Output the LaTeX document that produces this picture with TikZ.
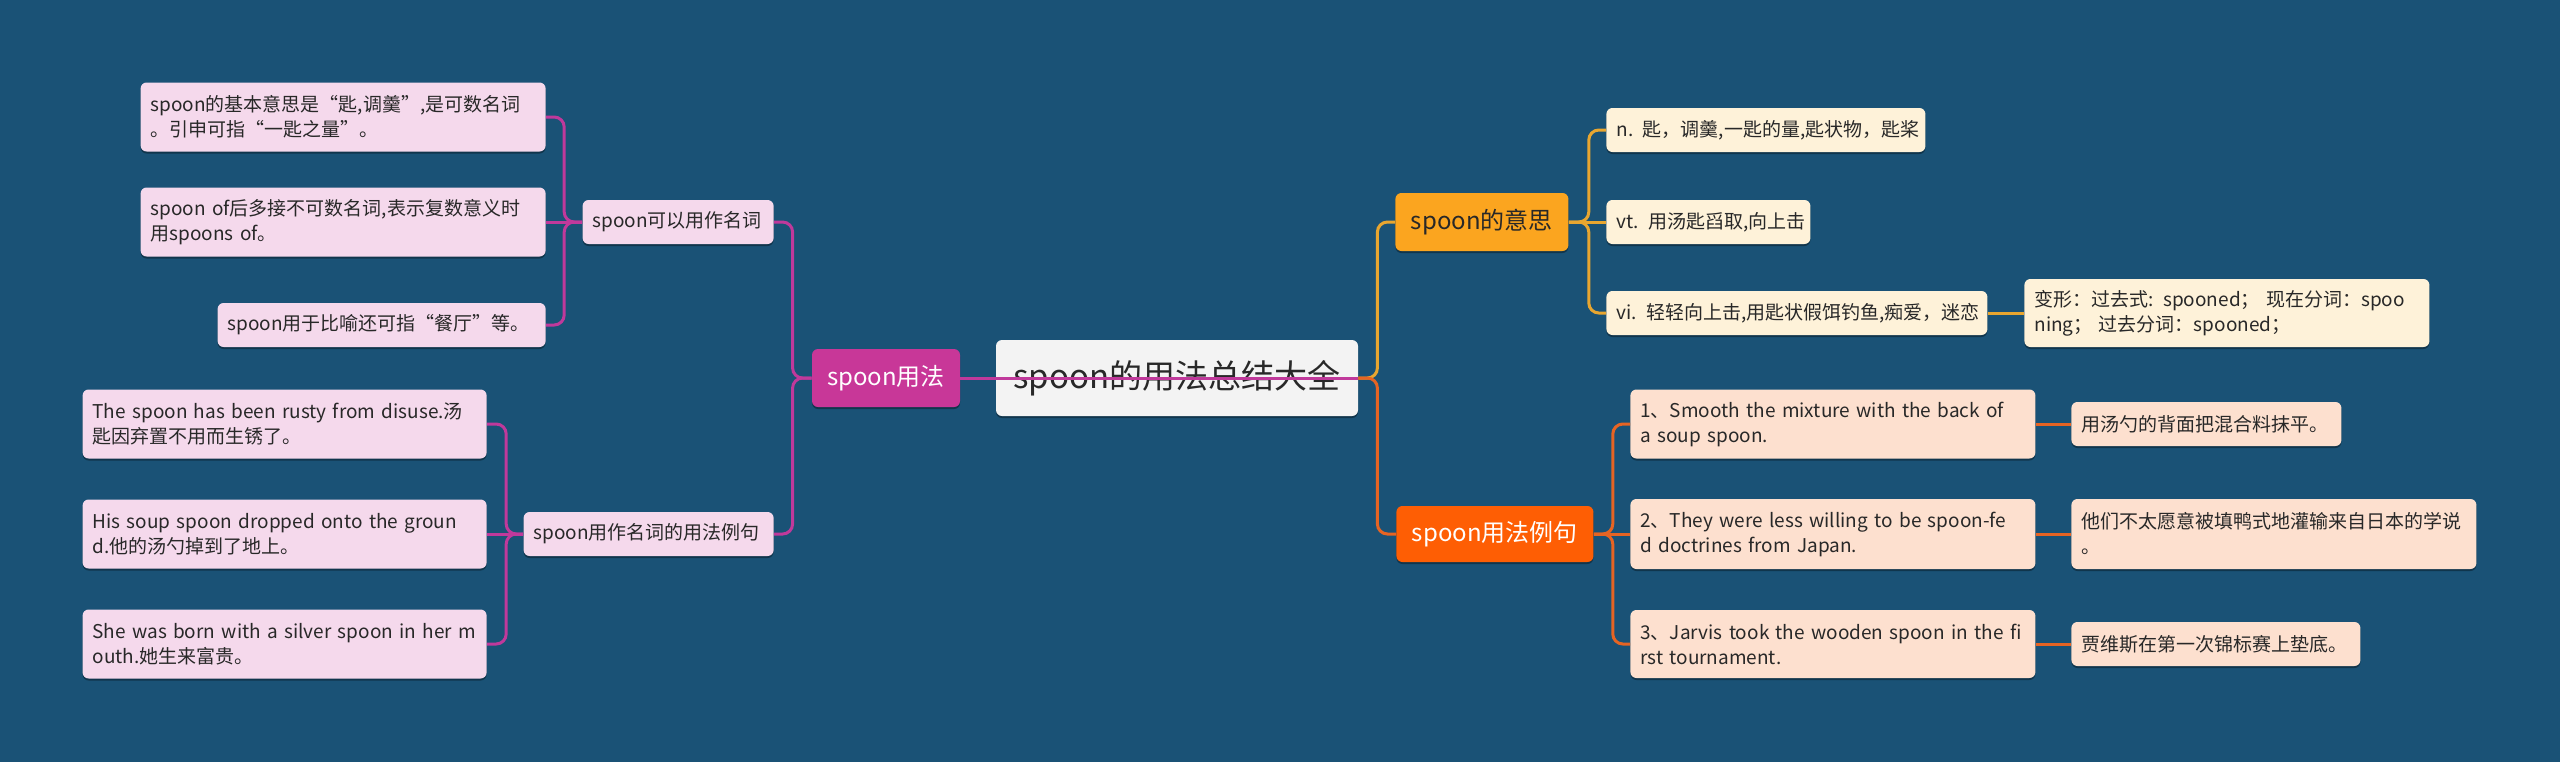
\documentclass[tikz,border=0pt]{standalone}
\usepackage{fontspec}
\setmainfont{Noto Sans CJK SC}
\usetikzlibrary{shadows}
\definecolor{bg}{RGB}{26,82,118}
\definecolor{txt}{RGB}{40,40,40}
\definecolor{rootf}{RGB}{243,243,243}
\definecolor{magf}{RGB}{200,55,152}
\definecolor{magl}{RGB}{192,57,155}
\definecolor{pinkf}{RGB}{245,217,236}
\definecolor{yelf}{RGB}{251,165,31}
\definecolor{yell}{RGB}{232,166,48}
\definecolor{creamf}{RGB}{254,242,217}
\definecolor{orf}{RGB}{254,94,4}
\definecolor{orl}{RGB}{230,100,35}
\definecolor{peachf}{RGB}{253,224,207}
\begin{document}
\begin{tikzpicture}[x=0.5pt, y=-0.5pt,
    box/.style={rounded corners=3pt, inner xsep=5pt, inner ysep=2pt, align=left,
        drop shadow={shadow xshift=0pt, shadow yshift=-1pt, opacity=.35, fill=black}},
    leaf/.style={box, font=\fontsize{9.5}{12.5}\selectfont, text=txt, minimum height=22pt},
    pinkleaf/.style={leaf, fill=pinkf},
    creamleaf/.style={leaf, fill=creamf},
    peachleaf/.style={leaf, fill=peachf},
    mainbox/.style={box, align=center, font=\fontsize{12}{14}\selectfont, minimum height=29pt},
    lineM/.style={draw=magl, line width=1.5pt, rounded corners=5pt},
    lineY/.style={draw=yell, line width=1.5pt, rounded corners=5pt},
    lineO/.style={draw=orl, line width=1.5pt, rounded corners=5pt}]
\fill[bg] (0,0) rectangle (2560,762);

\node (R) at (1177,378)[box, align=center, fill=rootf, text=txt, minimum width=181pt, minimum height=38pt,
    font=\fontsize{16.5}{19}\selectfont]{spoon的用法总结大全};

\node (M) at (886,378)[mainbox, fill=magf, text=white, minimum width=74pt]{spoon用法};
\node (Y) at (1395,222)[mainbox, anchor=west, fill=yelf, text=txt, minimum width=86.5pt]{spoon的意思};
\node (O) at (1396,534)[mainbox, anchor=west, fill=orf, text=white, minimum width=98.5pt, minimum height=28pt]{spoon用法例句};

\node (M1) at (774,222)[pinkleaf, anchor=east, text width=85.5pt]{\mbox{spoon可以用作名词}};
\node (M2) at (774,534)[pinkleaf, anchor=east, text width=115pt]{\mbox{spoon用作名词的用法例句}};

\node (A) at (546,117)[pinkleaf, anchor=east, text width=192.5pt, minimum height=34.5pt]{spoon的基本意思是“匙,调羹”,是可数名词\\。引申可指“一匙之量”。};
\node (B) at (546,222)[pinkleaf, anchor=east, text width=192.5pt, minimum height=34.5pt]{spoon of后多接不可数名词,表示复数意义时\\用spoons of。};
\node (C) at (546,325)[pinkleaf, anchor=east, text width=154pt]{\mbox{spoon用于比喻还可指“餐厅”等。}};

\node (D) at (487,424)[pinkleaf, anchor=east, text width=192pt, minimum height=34.5pt]{The spoon has been rusty from disuse.汤\\匙因弃置不用而生锈了。};
\node (E) at (487,534)[pinkleaf, anchor=east, text width=192pt, minimum height=34.5pt]{His soup spoon dropped onto the groun\\d.他的汤勺掉到了地上。};
\node (F) at (487,644)[pinkleaf, anchor=east, text width=192pt, minimum height=34.5pt]{She was born with a silver spoon in her m\\outh.她生来富贵。};

\node (Y1) at (1606,130)[creamleaf, anchor=west, text width=149.5pt]{\mbox{n. 匙，调羹,一匙的量,匙状物，匙桨}};
\node (Y2) at (1606,222)[creamleaf, anchor=west, text width=92pt]{\mbox{vt. 用汤匙舀取,向上击}};
\node (Y3) at (1606,313)[creamleaf, anchor=west, text width=180.5pt]{\mbox{vi. 轻轻向上击,用匙状假饵钓鱼,痴爱，迷恋}};
\node (BX) at (2024,313)[creamleaf, anchor=west, text width=192.5pt, minimum height=34pt]{变形：过去式: spooned； 现在分词：spoo\\ning； 过去分词：spooned；};

\node (O1) at (1630,424)[peachleaf, anchor=west, text width=192.5pt, minimum height=34.5pt]{1、Smooth the mixture with the back of\\a soup spoon.};
\node (O2) at (1630,534)[peachleaf, anchor=west, text width=192.5pt, minimum height=35pt]{2、They were less willing to be spoon-fe\\d doctrines from Japan.};
\node (O3) at (1630,644)[peachleaf, anchor=west, text width=192.5pt, minimum height=34pt]{3、Jarvis took the wooden spoon in the fi\\rst tournament.};

\node (T1) at (2071,424)[peachleaf, anchor=west, text width=125pt]{\mbox{用汤勺的背面把混合料抹平。}};
\node (T2) at (2071,534)[peachleaf, anchor=west, text width=192.5pt, minimum height=35pt]{他们不太愿意被填鸭式地灌输来自日本的学说\\。};
\node (T3) at (2071,644)[peachleaf, anchor=west, text width=134.5pt]{\mbox{贾维斯在第一次锦标赛上垫底。}};

\draw[lineY] (R.east) -- ++(19,0) |- (Y.west);
\draw[lineO] (R.east) -- ++(19,0) |- (O.west);
\draw[lineM] (R.east) -- (M.east);

\foreach \n in {M1,M2}
    \draw[lineM] (M.west) -- ++(-19,0) |- (\n.east);
\foreach \n in {A,C}
    \draw[lineM] (M1.west) -- ++(-18,0) |- (\n.east);
\draw[lineM] (M1.west) -- (B.east);
\foreach \n in {D,F}
    \draw[lineM] (M2.west) -- ++(-17,0) |- (\n.east);
\draw[lineM] (M2.west) -- (E.east);

\foreach \n in {Y1,Y3}
    \draw[lineY] (Y.east) -- ++(20,0) |- (\n.west);
\draw[lineY] (Y.east) -- (Y2.west);
\draw[lineY] (Y3.east) -- (BX.west);

\foreach \i in {1,3}
    \draw[lineO] (O.east) -- ++(19,0) |- (O\i.west);
\draw[lineO] (O.east) -- (O2.west);
\foreach \i in {1,2,3}
    \draw[lineO] (O\i.east) -- (T\i.west);
\end{tikzpicture}
\end{document}
